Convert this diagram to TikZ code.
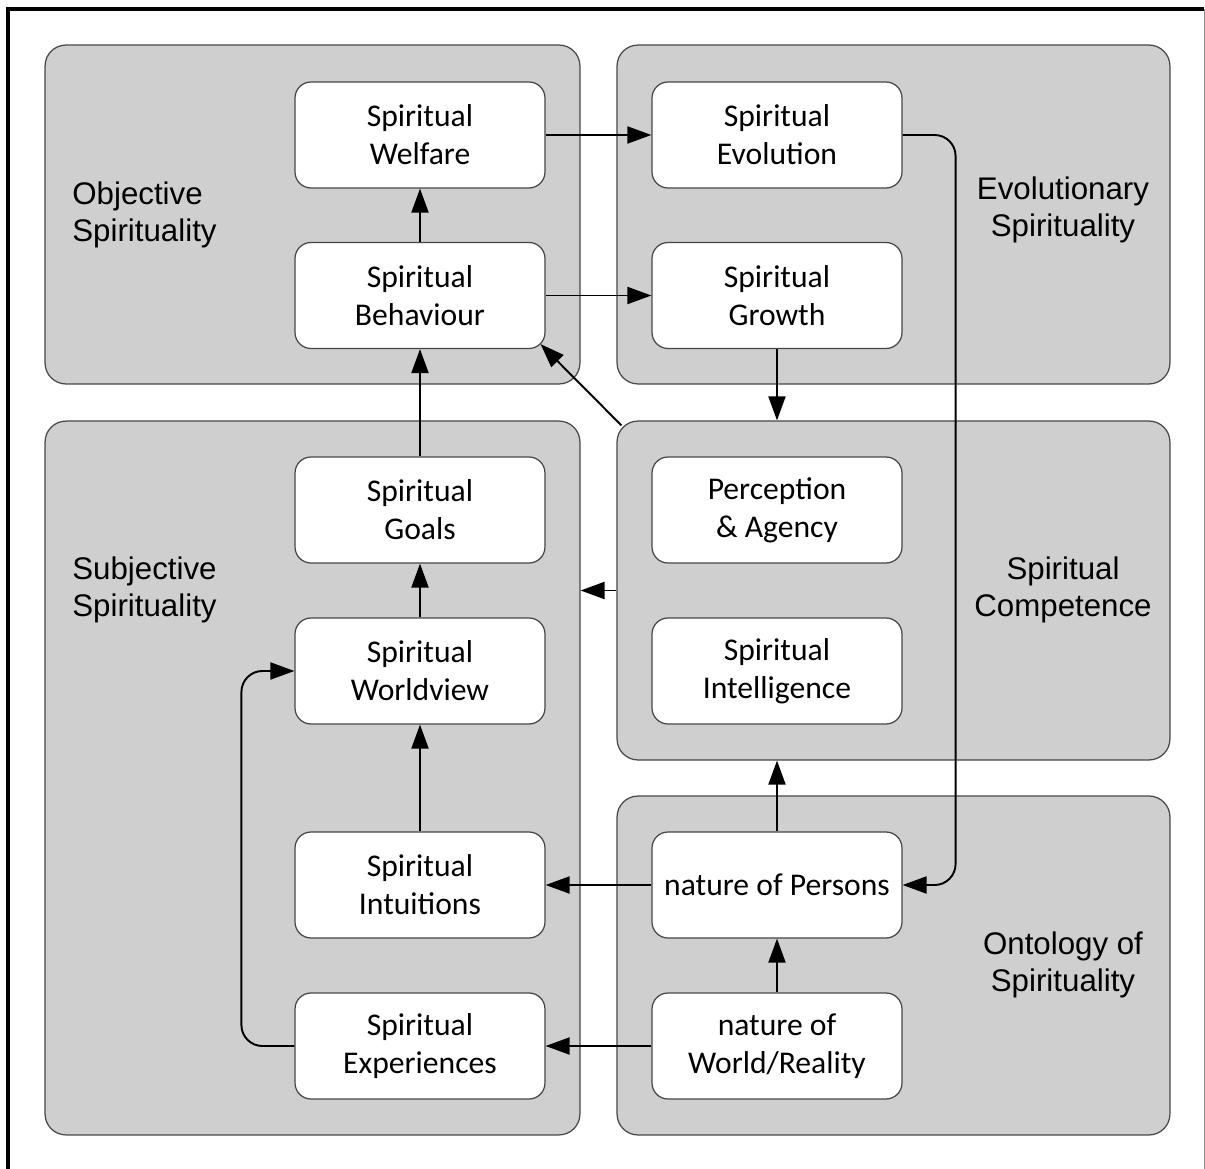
\documentclass[tikz,border=0pt]{standalone}
\usepackage{fontspec}
\setmainfont{Carlito}
\newfontfamily\panelfont{Liberation Sans}
\usetikzlibrary{arrows.meta,calc}

\tikzset{
  panel/.style={draw=black!72, line width=0.7pt, fill=black!19, rounded corners=0.42cm, inner sep=0pt},
  paneltext/.style={font=\panelfont\fontsize{17.8}{21.2}\selectfont, inner sep=0pt},
  box/.style={draw=black!72, line width=0.7pt, fill=white, rounded corners=0.32cm,
    minimum width=5cm, minimum height=2.12cm, align=center, inner sep=0pt,
    font=\fontsize{18}{21.6}\selectfont},
  link/.style={-{Triangle[length=0.48cm,width=0.34cm]}, line width=1.1pt}
}

\begin{document}
\begin{tikzpicture}[x=0.02cm, y=-0.02cm]
	\useasboundingbox (0,0) rectangle (1205,1169);
	% frame
	\draw [line width=0.065cm] (8,1175) -- (8,9) -- (1204,9);
	\draw [black!45, line width=0.02cm] (1204,9) -- (1204,1175);

	% panels
	\node [panel, minimum width=10.7cm, minimum height=6.78cm] (objective) at (312.5,214.5) {};
	\node [panel, minimum width=11.06cm, minimum height=6.78cm] (evolutionary) at (893.5,214.5) {};
	\node [panel, minimum width=10.7cm, minimum height=14.28cm] (subjective) at (312.5,778) {};
	\node [panel, minimum width=11.06cm, minimum height=6.78cm] (competence) at (893.5,590.5) {};
	\node [panel, minimum width=11.06cm, minimum height=6.78cm] (ontology) at (893.5,965.5) {};

	\node [paneltext, anchor=west, align=left] (objlabel) at (72,215) {Objective\\Spirituality};
	\node [paneltext, align=center] (evolabel) at (1063,210) {Evolutionary\\Spirituality};
	\node [paneltext, anchor=west, align=left] (subjlabel) at (72,590) {Subjective\\Spirituality};
	\node [paneltext, align=center] (complabel) at (1063,590) {Spiritual\\Competence};
	\node [paneltext, align=center] (ontolabel) at (1063,965) {Ontology of\\Spirituality};

	% boxes, left column
	\node [box] (welfare) at (420,135) {Spiritual\\Welfare};
	\node [box] (behaviour) at (420,295.5) {Spiritual\\Behaviour};
	\node [box] (goals) at (420,510) {Spiritual\\Goals};
	\node [box] (worldview) at (420,671) {Spiritual\\Worldview};
	\node [box] (intuitions) at (420,885) {Spiritual\\Intuitions};
	\node [box] (experiences) at (420,1046) {Spiritual\\Experiences};
	% boxes, right column
	\node [box] (evolution) at (777,135) {Spiritual\\Evolution};
	\node [box] (growth) at (777,295.5) {Spiritual\\Growth};
	\node [box] (perception) at (777,510) {Perception\\\& Agency};
	\node [box] (intelligence) at (777,671) {Spiritual\\Intelligence};
	\node [box] (persons) at (777,885) {nature of Persons};
	\node [box] (world) at (777,1046) {nature of\\World/Reality};

	% arrows
	\draw [link] (behaviour) -- (welfare);
	\draw [link] (welfare) -- (evolution);
	\draw [link] (behaviour) -- (growth);
	\draw [link] (growth.south) -- (growth.south |- competence.north);
	\draw [link] ($(competence.north west)+(5,5)$) -- ($(behaviour.south east)+(-5,-5)$);
	\draw [link] (competence.west) -- (competence.west -| subjective.east);
	\draw [link] (goals) -- (behaviour);
	\draw [link] (worldview) -- (goals);
	\draw [link] (intuitions) -- (worldview);
	\draw [link] (persons) -- (intuitions);
	\draw [link] (world) -- (experiences);
	\draw [link] (world) -- (persons);
	\draw [link] (persons.north) -- (persons.north |- competence.south);
	\draw [link, rounded corners=0.42cm] (evolution.east) -- ++(53,0) |- (persons.east);
	\draw [link, rounded corners=0.42cm] (experiences.west) -- ++(-53,0) |- (worldview.west);
\end{tikzpicture}
\end{document}
